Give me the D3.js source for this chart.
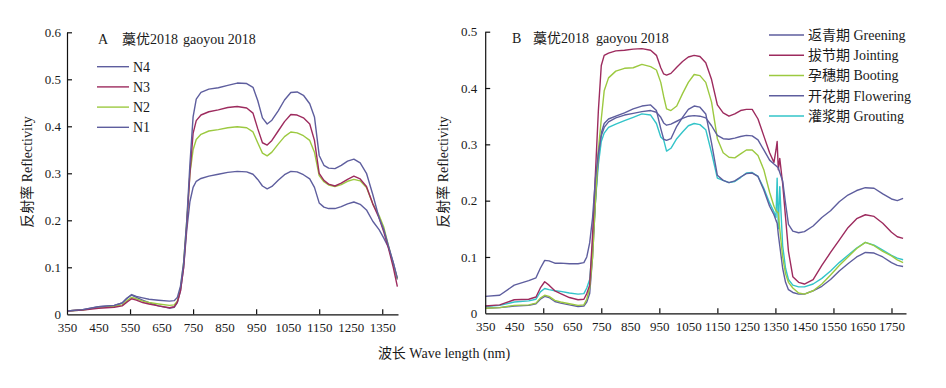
<!DOCTYPE html>
<html>
<head>
<meta charset="utf-8">
<script src="https://cdn.jsdelivr.net/npm/d3@7"></script>
<style>
  body { margin: 0; background: #fff; }
  text { font-family: "Liberation Serif", "Noto Sans CJK SC", serif; fill: #1a1a1a; }
</style>
</head>
<body>
<svg id="chart"></svg>
<script>
// ---- data ----
let wlA = [350, 400, 450, 500, 525, 540, 555, 570, 590, 610, 640, 675, 690, 700, 710, 720, 730, 740, 750, 760, 775,
  800, 830, 860, 890, 920, 940, 955, 970, 985, 1000, 1020, 1040, 1060, 1080, 1100, 1120, 1135, 1150, 1165, 1180,
  1200, 1220, 1240, 1260, 1280, 1300, 1320, 1340, 1355, 1370, 1385, 1398];

let n4 = [.007, .010, .016, .019, .024, .034, .042, .038, .035, .032, .030, .028, .029, .036, .060, .110, .200, .320, .420, .458, .472,
  .479, .482, .487, .492, .491, .483, .455, .418, .405, .413, .433, .456, .472, .473, .466, .448, .420, .338, .317, .311,
  .310, .317, .326, .330, .322, .300, .255, .205, .180, .145, .110, .077];
let n3 = [.007, .009, .013, .015, .018, .026, .033, .030, .025, .022, .018, .014, .016, .026, .050, .100, .190, .300, .385, .412, .424,
  .431, .435, .440, .442, .439, .428, .395, .365, .360, .370, .390, .410, .425, .424, .418, .405, .370, .300, .285, .277,
  .273, .279, .287, .294, .288, .272, .235, .205, .175, .140, .100, .059];
let n2 = [.007, .009, .015, .017, .020, .029, .036, .033, .028, .025, .022, .019, .020, .028, .055, .110, .200, .300, .350, .372, .383,
  .390, .393, .397, .399, .397, .388, .365, .343, .337, .345, .362, .378, .388, .386, .380, .370, .345, .295, .282, .275,
  .272, .276, .283, .287, .284, .270, .235, .210, .185, .145, .105, .076];
let n1 = [.007, .010, .016, .019, .024, .034, .041, .036, .030, .025, .018, .013, .015, .025, .050, .100, .180, .240, .270, .283, .289,
  .294, .298, .302, .304, .303, .298, .287, .273, .267, .272, .285, .297, .304, .303, .297, .288, .270, .237, .228, .225,
  .225, .229, .235, .239, .234, .222, .198, .180, .162, .142, .110, .074];

let wlB = [350, 400, 450, 500, 525, 540, 555, 570, 590, 610, 640, 670, 690, 700, 710, 720, 730, 740, 750, 760, 775,
  800, 830, 860, 890, 920, 940, 955, 965, 975, 990, 1010, 1030, 1050, 1070, 1090, 1110, 1130, 1150, 1170, 1190,
  1210, 1230, 1250, 1270, 1290, 1310, 1330, 1345, 1352, 1356, 1360, 1365, 1375, 1385, 1395, 1410, 1430, 1450, 1480,
  1510, 1540, 1570, 1600, 1630, 1660, 1690, 1720, 1750, 1770, 1790];

let greening = [.030, .032, .050, .058, .063, .080, .094, .093, .089, .089, .088, .088, .090, .100, .125, .170, .240, .285, .315, .330, .340,
  .347, .352, .355, .358, .360, .357, .348, .338, .334, .336, .341, .346, .350, .351, .350, .347, .333, .316, .310, .309,
  .311, .314, .316, .315, .308, .290, .272, .265, .262, .260, .258, .250, .235, .195, .158, .146, .143, .145, .155,
  .170, .182, .198, .210, .218, .223, .222, .212, .203, .200, .204];
let jointing = [.013, .015, .024, .025, .029, .045, .056, .050, .040, .035, .028, .024, .025, .035, .050, .140, .250, .360, .440, .458, .462,
  .466, .467, .469, .470, .467, .458, .436, .425, .423, .426, .437, .447, .455, .458, .456, .445, .415, .370, .356, .350,
  .354, .360, .362, .362, .345, .315, .285, .268, .290, .305, .255, .275, .230, .170, .110, .065, .055, .052, .060,
  .085, .108, .130, .152, .168, .175, .172, .160, .144, .136, .133];
let booting = [.009, .010, .014, .015, .018, .027, .032, .030, .023, .020, .017, .014, .015, .025, .045, .100, .200, .290, .345, .395, .418,
  .430, .435, .436, .442, .438, .432, .410, .385, .363, .360, .368, .390, .410, .424, .422, .410, .375, .310, .285, .277,
  .276, .283, .290, .290, .280, .255, .215, .190, .182, .180, .178, .150, .100, .070, .055, .045, .036, .034, .040,
  .052, .068, .085, .100, .115, .126, .120, .110, .102, .095, .090];
let flowering = [.009, .010, .013, .014, .017, .025, .030, .028, .021, .018, .015, .012, .013, .020, .035, .100, .200, .280, .320, .337, .345,
  .350, .356, .363, .368, .370, .360, .328, .309, .307, .310, .332, .348, .362, .368, .366, .354, .302, .245, .236, .232,
  .235, .242, .248, .249, .243, .219, .190, .175, .165, .160, .140, .120, .080, .055, .042, .037, .034, .034, .040,
  .048, .060, .075, .088, .100, .108, .107, .100, .090, .085, .083];
let grouting = [.012, .014, .020, .022, .025, .038, .044, .042, .040, .039, .036, .034, .035, .045, .060, .120, .200, .265, .305, .320, .330,
  .336, .342, .348, .354, .352, .337, .313, .308, .288, .293, .310, .322, .333, .337, .335, .326, .285, .240, .236, .232,
  .234, .241, .249, .250, .243, .222, .196, .180, .170, .240, .150, .225, .120, .080, .060, .050, .047, .047, .052,
  .062, .075, .090, .103, .116, .126, .121, .112, .103, .098, .095];

let namesA  = ["N4", "N3", "N2", "N1"];
let namesB  = ["返青期 Greening", "拔节期 Jointing", "孕穗期 Booting", "开花期 Flowering", "灌浆期 Grouting"];

let xLabelsA = [350, 450, 550, 650, 750, 850, 950, 1050, 1150, 1250, 1350];
let xMarksA  = [550, 750, 950, 1150, 1350];
let xLabelsB = [350, 450, 550, 650, 750, 850, 950, 1050, 1150, 1250, 1350, 1450, 1550, 1650, 1750];
let xMarksB  = [550, 750, 950, 1150, 1350, 1550, 1750];
let yTicksA  = [0, 0.1, 0.2, 0.3, 0.4, 0.5, 0.6];
let yTicksB  = [0, 0.1, 0.2, 0.3, 0.4, 0.5];

// ---- drawing ----
let blue = "#5e5e9e", crimson = "#9d2b5e", green = "#9cc940", cyan = "#33c4c9";

let width  = 946;
let height = 388;
let svg = d3.select("#chart").attr("width", width).attr("height", height);

function panel(p) {
  let g = svg.append("g");
  let x = d3.scaleLinear().domain(p.xDomain).range(p.xRange);
  let y = d3.scaleLinear().domain(p.yDomain).range(p.yRange);

  let line = d3.line()
    .x(function(d) { return x(d[0]); })
    .y(function(d) { return y(d[1]); });

  p.series.slice().reverse().forEach(function(s) {
    g.append("path")
      .attr("fill", "none")
      .attr("stroke", s.color)
      .attr("stroke-width", 1.4)
      .attr("stroke-linejoin", "round")
      .attr("d", line(p.wl.map(function(w, i) { return [w, s.values[i]]; })));
  });

  // x axis: labels every 100, marks every 200
  let xa = g.append("g")
    .attr("transform", "translate(0," + p.yRange[0] + ")")
    .call(d3.axisBottom(x).tickValues(p.xLabels).tickSize(0).tickSizeOuter(0).tickPadding(8).tickFormat(d3.format("d")));
  let xm = g.append("g")
    .attr("transform", "translate(0," + p.yRange[0] + ")")
    .call(d3.axisBottom(x).tickValues(p.xMarks).tickSize(-5).tickFormat(""));
  xm.select(".domain").remove();

  let ya = g.append("g")
    .attr("transform", "translate(" + p.xRange[0] + ",0)")
    .call(d3.axisLeft(y).tickValues(p.yTicks).tickSize(-5).tickSizeOuter(0).tickPadding(p.yPad)
      .tickFormat(function(d) { return d === 0 ? "0" : d.toFixed(1); }));
  ya.selectAll(".tick").filter(function(d) { return d === 0; }).select("line").remove();

  [xa, xm, ya].forEach(function(a) {
    a.selectAll(".domain, line").attr("stroke", "#111").attr("stroke-width", 1.2);
    a.selectAll("text").attr("font-size", 13).attr("fill", "#1a1a1a")
      .style("font-family", "'Liberation Serif', serif");
  });

  // title
  let t = g.append("text").attr("y", p.titleY).attr("font-size", 14);
  t.append("tspan").attr("x", p.titleX[0]).text(p.letter);
  t.append("tspan").attr("x", p.titleX[1]).text("藁优2018");
  t.append("tspan").attr("x", p.titleX[2]).text("gaoyou 2018");

  // legend
  p.series.forEach(function(s, i) {
    let ly = p.legY + i * p.legStep;
    g.append("line")
      .attr("x1", p.legX[0]).attr("x2", p.legX[1])
      .attr("y1", ly).attr("y2", ly)
      .attr("stroke", s.color).attr("stroke-width", 1.4);
    g.append("text")
      .attr("x", p.legX[1] + 4).attr("y", ly).attr("dy", "0.35em")
      .attr("font-size", 14)
      .text(s.name);
  });

  // y label
  g.append("text")
    .attr("transform", "translate(" + p.yLabelX + ",172) rotate(-90)")
    .attr("text-anchor", "middle")
    .attr("dy", "0.35em")
    .attr("font-size", 14)
    .text("反射率 Reflectivity");
}

panel({
  wl: wlA,
  series: [
    { name: namesA[0], values: n4, color: blue },
    { name: namesA[1], values: n3, color: crimson },
    { name: namesA[2], values: n2, color: green },
    { name: namesA[3], values: n1, color: blue }
  ],
  xDomain: [350, 1400], xRange: [67, 398],
  yDomain: [0, 0.6], yRange: [314.3, 32.3],
  xLabels: xLabelsA, xMarks: xMarksA, yTicks: yTicksA, yPad: 6,
  letter: "A", titleX: [98, 122, 183], titleY: 43.5,
  legX: [97, 129], legY: 66.7, legStep: 20.2,
  yLabelX: 27
});

panel({
  wl: wlB,
  series: [
    { name: namesB[0], values: greening, color: blue },
    { name: namesB[1], values: jointing, color: crimson },
    { name: namesB[2], values: booting, color: green },
    { name: namesB[3], values: flowering, color: blue },
    { name: namesB[4], values: grouting, color: cyan }
  ],
  xDomain: [350, 1800], xRange: [485.2, 906],
  yDomain: [0, 0.5], yRange: [313.3, 31.7],
  xLabels: xLabelsB, xMarks: xMarksB, yTicks: yTicksB, yPad: 8,
  letter: "B", titleX: [512, 533, 596], titleY: 42.5,
  legX: [769, 804], legY: 35, legStep: 20.25,
  yLabelX: 443
});

svg.append("text")
  .attr("x", 444).attr("y", 358)
  .attr("text-anchor", "middle")
  .attr("font-size", 14)
  .text("波长 Wave length (nm)");
</script>
</body>
</html>
